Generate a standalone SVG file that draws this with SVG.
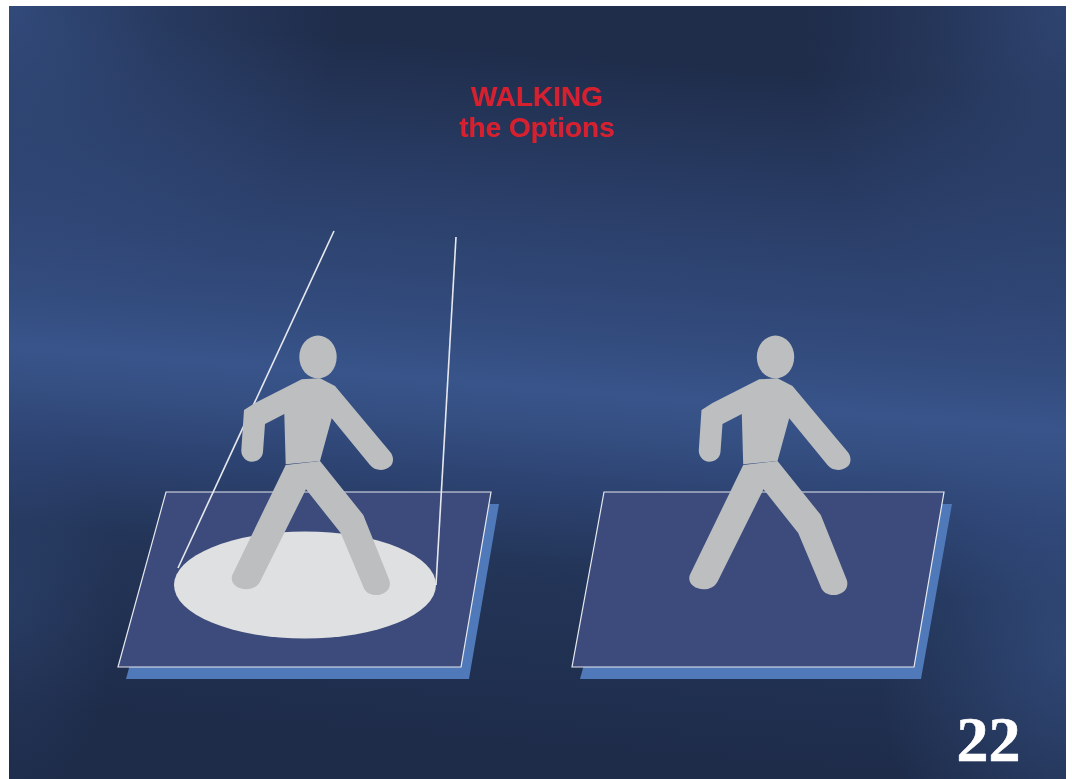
<svg xmlns="http://www.w3.org/2000/svg" width="1072" height="779" viewBox="0 0 1072 779">
<defs>
<linearGradient id="bg" gradientUnits="userSpaceOnUse" x1="530" y1="6" x2="468" y2="779">
<stop offset="0" stop-color="#1f2c4a"/><stop offset="0.06" stop-color="#1f2d4b"/><stop offset="0.25" stop-color="#2a3e68"/><stop offset="0.42" stop-color="#334c7e"/><stop offset="0.49" stop-color="#38548a"/><stop offset="0.54" stop-color="#354f82"/><stop offset="0.62" stop-color="#2c4270"/><stop offset="0.72" stop-color="#233558"/><stop offset="0.95" stop-color="#1e2c4a"/><stop offset="1" stop-color="#1e2c4a"/>
</linearGradient>
<radialGradient id="tl" gradientUnits="userSpaceOnUse" cx="0" cy="0" r="1" gradientTransform="translate(9 6) scale(330 320)">
<stop offset="0" stop-color="#38548a" stop-opacity="0.75"/><stop offset="0.5" stop-color="#38548a" stop-opacity="0.3"/><stop offset="1" stop-color="#38548a" stop-opacity="0"/>
</radialGradient>
<radialGradient id="tr" gradientUnits="userSpaceOnUse" cx="0" cy="0" r="1" gradientTransform="translate(1066 6) scale(260 380)">
<stop offset="0" stop-color="#38548a" stop-opacity="0.6"/><stop offset="0.5" stop-color="#38548a" stop-opacity="0.25"/><stop offset="1" stop-color="#38548a" stop-opacity="0"/>
</radialGradient>
<radialGradient id="br" gradientUnits="userSpaceOnUse" cx="0" cy="0" r="1" gradientTransform="translate(1066 650) scale(190 280)">
<stop offset="0" stop-color="#38548a" stop-opacity="0.6"/><stop offset="0.55" stop-color="#38548a" stop-opacity="0.25"/><stop offset="1" stop-color="#38548a" stop-opacity="0"/>
</radialGradient>
<radialGradient id="bl" gradientUnits="userSpaceOnUse" cx="0" cy="0" r="1" gradientTransform="translate(9 600) scale(110 200)">
<stop offset="0" stop-color="#38548a" stop-opacity="0.3"/><stop offset="1" stop-color="#38548a" stop-opacity="0"/>
</radialGradient>
<g id="figure">
<ellipse cx="318" cy="357" rx="18.7" ry="21.5"/>
<path d="M301.7 379.3L320 378.3L335 386L390 451.7C394 456 394 463 390 466.5C384 472 374 470.5 370 465L331.7 418.3L320 461L285.7 464.3L284.3 414L265 424L263 451.7C262.5 458 257.5 461.7 251.7 461.7C245.5 461.7 241 456 241.3 450L244 410L255 403Z"/>
<path d="M285.7 465L320 461L363.3 515L389.3 580C392 589 384.5 595 376 595C370 595 365 592 363.3 586.7L340.7 533L306 489.3L260 581.7C257 587 252 589.3 246 589.3C237 589.3 229.5 583 232.3 575Z"/>
</g>
</defs>
<style>
.plate{fill:#3c4b7b;stroke:#e6e8ee;stroke-width:1.2}
.shadow{fill:#4f79b8}
.fig{fill:#bcbec0}
.beam{fill:none;stroke:#e6e8ee;stroke-width:1.6}
text{text-anchor:middle}
.title{font:bold 28px "Liberation Sans",Arial,sans-serif;fill:#d7202e}
.num{font:bold 64px "Liberation Serif","Times New Roman",serif;fill:#fff;stroke:#fff;stroke-width:.6}
</style>
<rect width="1072" height="779" fill="#fff"/>
<rect x="9" y="6" width="1057" height="773" fill="url(#bg)"/>
<rect x="9" y="6" width="1057" height="773" fill="url(#tl)"/>
<rect x="9" y="6" width="1057" height="773" fill="url(#tr)"/>
<rect x="9" y="6" width="1057" height="773" fill="url(#br)"/>
<rect x="9" y="6" width="1057" height="773" fill="url(#bl)"/>
<g id="title"><text class="title" x="536.5" y="106">WALKING</text><text class="title" x="536.5" y="137">the Options</text></g>
<g id="platform-left">
<path class="shadow" d="M174 504H499L469 679H126Z"/>
<path class="plate" d="M166 492H491L461 667H118Z"/>
<ellipse cx="305" cy="585" rx="131" ry="53.5" fill="#dfe0e2"/>
</g>
<g id="connectors">
<path class="beam" d="M334 231L178 568"/>
<path class="beam" d="M456 237L436 585"/>
</g>
<g id="figure-left" class="fig"><use href="#figure"/></g>
<g id="platform-right">
<path class="shadow" d="M628 504H952L921 679H580Z"/>
<path class="plate" d="M604 492H944L914 667H572Z"/>
</g>
<g id="figure-right" class="fig"><use href="#figure" x="457.5"/></g>
<g id="page-number"><text class="num" x="988.5" y="761">22</text></g>
</svg>
